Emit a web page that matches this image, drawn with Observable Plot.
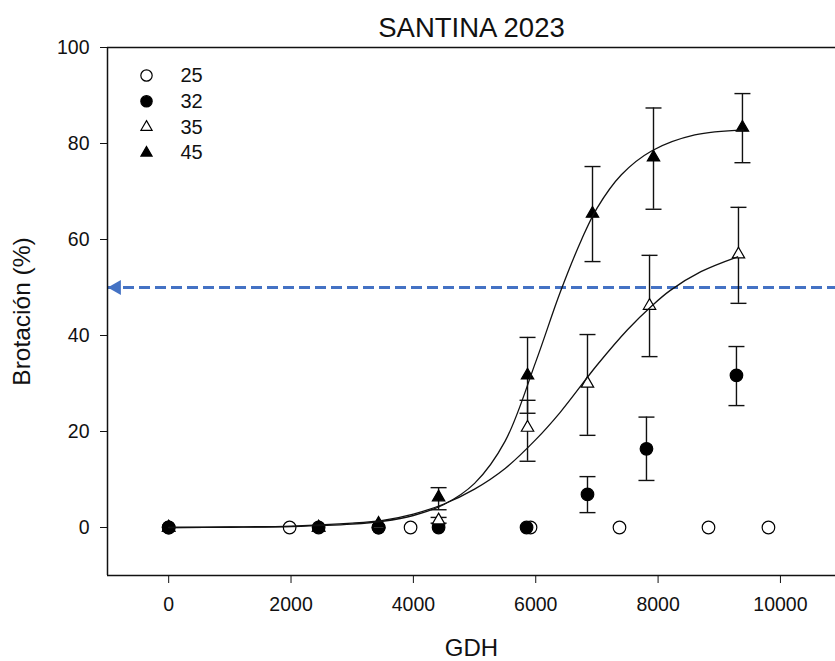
<!DOCTYPE html>
<html><head><meta charset="utf-8">
<script src="https://cdn.jsdelivr.net/npm/d3@7"></script>
<script src="https://cdn.jsdelivr.net/npm/@observablehq/plot@0.6"></script>
<style>
body{margin:0;background:#fff}
#chart svg{font-family:"Liberation Sans",Arial,sans-serif;background:#fff}
</style>
</head><body><div id="chart"></div>
<script>
// ---- text ----
const title = "SANTINA 2023";
const xLabel = "GDH";
const yLabel = "Brotación (%)";
const seriesNames = ["25", "32", "35", "45"];

// ---- axes ----
const xDomain = [-1000, 10900];
const yDomain = [-10, 100];
const xTicks = [0, 2000, 4000, 6000, 8000, 10000];
const yTicks = [0, 20, 40, 60, 80, 100];

// ---- series 25 (open circles) ----
const x25 = [0, 1977, 3431, 3954, 5915, 7369, 8824, 9804];
const y25 = [0, 0, 0, 0, 0, 0, 0, 0];

// ---- series 32 (filled circles) ----
const x32 = [0, 2451, 3431, 4412, 5850, 6846, 7810, 9281];
const y32 = [0, 0, 0, 0, 0, 6.9, 16.4, 31.7];
const lo32 = [null, null, null, null, null, 3.1, 9.8, 25.4];
const hi32 = [null, null, null, null, null, 10.6, 23.0, 37.7];

// ---- series 35 (open triangles) ----
const x35 = [0, 2451, 3431, 4412, 5866, 6846, 7860, 9314];
const y35 = [0, 0, 0.5, 1.5, 20.8, 30.0, 46.2, 56.9];
const lo35 = [null, null, null, 0.9, 13.8, 19.2, 35.6, 46.7];
const hi35 = [null, null, null, 2.1, 26.5, 40.2, 56.7, 66.7];

// ---- series 45 (filled triangles) ----
const x45 = [0, 2451, 3431, 4412, 5866, 6928, 7925, 9379];
const y45 = [0, 0, 0.8, 6.3, 31.7, 65.4, 77.1, 83.3];
const lo45 = [null, null, null, 3.7, 23.8, 55.4, 66.3, 76.0];
const hi45 = [null, null, null, 8.3, 39.6, 75.2, 87.4, 90.4];

// ---- fitted curves ----
const fit35x = [0, 1000, 2000, 3000, 3500, 4000, 4500, 5000, 5500, 6000, 6400, 7000, 7500, 7900, 8200, 8700, 9300];
const fit35y = [0, 0.1, 0.3, 0.9, 1.5, 2.8, 4.9, 8.0, 12.3, 18.3, 24.0, 33.8, 41.2, 46.2, 49.4, 53.3, 56.4];
const fit45x = [0, 1000, 2000, 3000, 3500, 4000, 4500, 5000, 5500, 6000, 6400, 6750, 7000, 7400, 7900, 8600, 9400];
const fit45y = [0, 0.05, 0.2, 0.7, 1.3, 2.5, 4.8, 9.2, 18.0, 34.5, 49.0, 60.0, 66.5, 73.5, 78.5, 81.8, 82.8];

// ---- reference line ----
const refY = [50];

// ---- build tables ----
const pts = (xs, ys, lo, hi) => xs.map((x, i) => ({x, y: ys[i], lo: lo ? lo[i] : null, hi: hi ? hi[i] : null}));
const s25 = pts(x25, y25);
const s32 = pts(x32, y32, lo32, hi32);
const s35 = pts(x35, y35, lo35, hi35);
const s45 = pts(x45, y45, lo45, hi45);
const f35 = fit35x.map((x, i) => ({x, y: fit35y[i]}));
const f45 = fit45x.map((x, i) => ({x, y: fit45y[i]}));

const hline = {draw(ctx, size) { const r = Math.sqrt(size / Math.PI); ctx.moveTo(-r, 0); ctx.lineTo(r, 0); }};

const styles = {
  "25": {symbol: "circle", fill: "white", r: 6.3},
  "32": {symbol: "circle", fill: "black", r: 6.3},
  "35": {symbol: "triangle", fill: "white", r: 4.6},
  "45": {symbol: "triangle", fill: "black", r: 4.6}
};

function errMarks(data) {
  const e = data.filter(d => d.hi != null);
  return [
    Plot.ruleX(e, {x: "x", y1: "lo", y2: "hi", stroke: "#111", strokeWidth: 1.4}),
    Plot.dot(e, {x: "x", y: "lo", symbol: hline, r: 8, stroke: "#111", strokeWidth: 1.4}),
    Plot.dot(e, {x: "x", y: "hi", symbol: hline, r: 8, stroke: "#111", strokeWidth: 1.4})
  ];
}
function dotMark(data, name) {
  const s = styles[name];
  return Plot.dot(data, {x: "x", y: "y", symbol: s.symbol, r: s.r, fill: s.fill, stroke: "black", strokeWidth: 1.2});
}
function legendMarks() {
  const out = [];
  seriesNames.forEach((name, i) => {
    const s = styles[name];
    out.push(Plot.dot([name], {frameAnchor: "top-left", dx: 39, dy: 28 + i * 25.8, symbol: s.symbol, r: s.r * 0.9, fill: s.fill, stroke: "black", strokeWidth: 1.2}));
    out.push(Plot.text([name], {frameAnchor: "top-left", dx: 73, dy: 28 + i * 25.8, text: d => d, textAnchor: "start", lineAnchor: "middle", fontSize: 20, fill: "#111"}));
  });
  return out;
}

const chart = Plot.plot({
  width: 835, height: 661,
  marginLeft: 107, marginRight: 0, marginTop: 47, marginBottom: 86,
  style: {fontSize: "19.5px", color: "#111"},
  x: {domain: xDomain, ticks: xTicks, tickFormat: "d", tickSize: 8, tickPadding: 14, label: null},
  y: {domain: yDomain, ticks: yTicks, tickSize: 7, tickPadding: 11, label: null},
  marks: [
    Plot.ruleY(refY, {stroke: "#4472C4", strokeWidth: 3, strokeDasharray: "11,5"}),
    Plot.dot(refY, {y: d => d, frameAnchor: "left", symbol: "triangle", rotate: -90, r: 5.6, dx: 9, fill: "#4472C4", stroke: "none"}),
    Plot.ruleX([xDomain[0]], {stroke: "#111", strokeWidth: 1.5}),
    Plot.ruleY([yDomain[0], yDomain[1]], {stroke: "#111", strokeWidth: 1.5}),
    dotMark(s25, "25"),
    ...errMarks(s32), dotMark(s32, "32"),
    ...errMarks(s35), dotMark(s35, "35"),
    ...errMarks(s45), dotMark(s45, "45"),
    Plot.line(f35, {x: "x", y: "y", curve: "catmull-rom", stroke: "#111", strokeWidth: 1.3}),
    Plot.line(f45, {x: "x", y: "y", curve: "catmull-rom", stroke: "#111", strokeWidth: 1.3}),
    ...legendMarks(),
    Plot.text([title], {frameAnchor: "top", dy: -19, lineAnchor: "middle", text: d => d, fontSize: 27.5, fill: "#111"}),
    Plot.text([xLabel], {frameAnchor: "bottom", dy: 73, lineAnchor: "middle", text: d => d, fontSize: 24, fill: "#111"}),
    Plot.text([yLabel], {frameAnchor: "left", dx: -85, rotate: -90, textAnchor: "middle", lineAnchor: "middle", text: d => d, fontSize: 24.5, fill: "#111"})
  ]
});
document.getElementById("chart").appendChild(chart);
</script>
</body></html>
